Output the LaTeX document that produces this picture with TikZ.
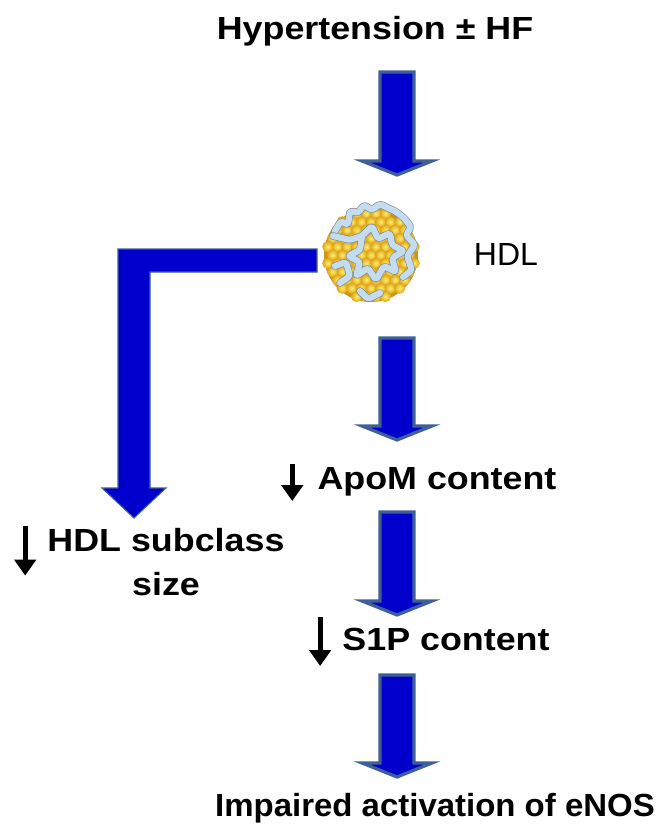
\documentclass[tikz,border=0pt]{standalone}
\usepackage{fontspec}
\setmainfont{Liberation Sans}
\usetikzlibrary{calc}
\usetikzlibrary{arrows.meta}

\definecolor{arrowblue}{RGB}{0,0,204}
\definecolor{arrowedge}{RGB}{62,96,150}
\definecolor{lipidlight}{RGB}{255,238,110}
\definecolor{lipidgold}{RGB}{222,164,22}
\definecolor{coregold}{RGB}{200,150,30}
\definecolor{apofill}{RGB}{196,220,238}
\definecolor{apoedge}{RGB}{120,140,160}

% block arrow between two named points (shaft top, tip)
\newcommand{\blockarrow}[2]{%
  \draw[bigarrow] ($(#1)+(-17,0)$) -- ($(#2)+(-17,-14)$) -- ($(#2)+(-35,-14)$) -- (#2)
    -- ($(#2)+(35,-14)$) -- ($(#2)+(17,-14)$) -- ($(#1)+(17,0)$) -- cycle;}

\begin{document}
\begin{tikzpicture}[x=0.75pt,y=0.75pt,yscale=-1,xscale=1,
  lbl/.style={font=\fontsize{24}{33}\selectfont\bfseries, inner sep=0pt, xscale=1.12},
  bigarrow/.style={fill=arrowblue, draw=arrowedge, line width=2.4pt, line join=miter},
  bendarrow/.style={fill=arrowblue, draw=arrowedge, line width=0.8pt},
  dn/.style={line width=3.8pt, -{Triangle[width=16pt,length=12pt]}},
  bead/.style={inner color=lipidlight, outer color=lipidgold},
  apo/.style={draw=apoedge, double=apofill, line width=0.5pt, double distance=4.6pt,
    rounded corners=2pt, line join=round, line cap=round}]
\useasboundingbox (0,0) rectangle (659,836);

% Text Node
\node[lbl, anchor=base] (title) at (375,39) {Hypertension ± HF};
% Text Node
\node[lbl, anchor=base] (apom) at (437,489) {ApoM content};
% Text Node
\node[lbl, anchor=base] (s1p) at (446,650) {S1P content};
% Text Node
\node[lbl, anchor=base, xscale=1.03/1.12] (enos) at (435,816) {Impaired activation of eNOS};
% Text Node
\node[lbl, anchor=base, align=center] (sub) at (166,595) {HDL subclass\\size};
% Text Node
\node[font=\fontsize{24}{28}\selectfont, inner sep=0pt, anchor=base] (hdltext) at (506,265) {HDL};

% ends of the block arrows
\coordinate (a1s) at (397,72);  \coordinate (a1e) at (397,175);
\coordinate (a2s) at (397,338); \coordinate (a2e) at (397,440);
\coordinate (a3s) at (397,512); \coordinate (a3e) at (397,615);
\coordinate (a4s) at (397,675); \coordinate (a4e) at (397,777);
\coordinate (hdl) at (371,255);
\coordinate (ls) at (317,260);  \coordinate (le) at (134,518);

%Block Arrows
\blockarrow{a1s}{a1e}
\blockarrow{a2s}{a2e}
\blockarrow{a3s}{a3e}
\blockarrow{a4s}{a4e}

%Bent Arrow
\draw[bendarrow] ($(ls)+(0,-11)$) -- ($(le)+(-16,-269)$) -- ($(le)+(-16,-30)$) -- ($(le)+(-32,-30)$)
  -- (le) -- ($(le)+(32,-30)$) -- ($(le)+(16,-30)$) -- ($(le)+(16,-246)$) -- ($(ls)+(0,12)$) -- cycle;

%Small down arrows
\draw[dn] ($(apom.base west)+(-25,-25)$) -- ++(0,37);
\draw[dn] ($(s1p.base west)+(-22,-33)$) -- ++(0,49);
\draw[dn] ($(sub.north west)+(-22,-2)$) -- ++(0,50);

%Shape: HDL particle
\begin{scope}[shift={(hdl)}]
\fill[coregold] (0,0) circle[radius=47];
\foreach \j in {-6,...,6}{
  \foreach \i in {-6,...,6}{
    \pgfmathsetmacro{\bx}{\i*9.6+mod(abs(\j),2)*4.8}
    \pgfmathsetmacro{\by}{\j*8.3}
    \pgfmathtruncatemacro{\inside}{(\bx*\bx+\by*\by)<(44*44) ? 1 : 0}
    \ifnum\inside=1
      \shade[bead] (\bx,\by) circle[radius=5.6];
    \fi
  }
}
\draw[apo] (-36,-24) -- (-30,-34) -- (-23,-30) -- (-21,-44) -- (-13,-42) -- (-7,-50) -- (1,-45)
  -- (9,-51) -- (17,-47) -- (24,-44) -- (33,-37) -- (40,-28) -- (35,-20) -- (44,-10) -- (36,1)
  -- (41,15) -- (32,22);
\draw[apo] (-38,-19) -- (-21,-15) -- (-9,-19) -- (1,-29) -- (7,-16) -- (19,-22) -- (21,-10)
  -- (33,-4) -- (21,3) -- (25,17) -- (13,11) -- (5,25) -- (-3,13) -- (-15,21) -- (-11,7)
  -- (-23,1) -- (-11,-5) -- (-9,-19);
\draw[apo] (-36,11) -- (-25,7) -- (-21,21) -- (-31,28);
\draw[apo] (-11,36) -- (-3,44) -- (9,38);
\end{scope}

\end{tikzpicture}
\end{document}
